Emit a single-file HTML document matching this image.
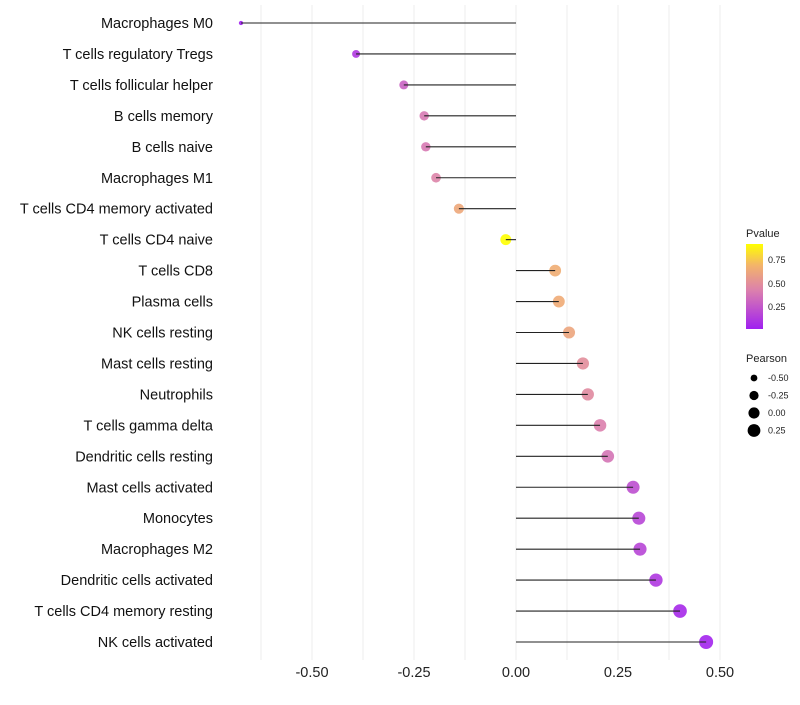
<!DOCTYPE html>
<html><head><meta charset="utf-8"><style>
body{margin:0;background:#fff;font-family:"Liberation Sans",Arial,sans-serif}
</style></head><body>
<svg id="chart" width="800" height="700" xmlns="http://www.w3.org/2000/svg">
<defs><linearGradient id="pg" x1="0" y1="1" x2="0" y2="0">
<stop offset="0" stop-color="#a020f0"/><stop offset="0.45" stop-color="#db7fae"/><stop offset="0.75" stop-color="#f3b46a"/><stop offset="1" stop-color="#ffff00"/></linearGradient></defs>
<g id="grid"></g><g id="points"></g><g id="marks"></g><g id="labels"></g><g id="legend"></g>
</svg>
<script>
const categories=["Macrophages M0","T cells regulatory  Tregs","T cells follicular helper","B cells memory","B cells naive","Macrophages M1","T cells CD4 memory activated","T cells CD4 naive","T cells CD8","Plasma cells","NK cells resting","Mast cells resting","Neutrophils","T cells gamma delta","Dendritic cells resting","Mast cells activated","Monocytes","Macrophages M2","Dendritic cells activated","T cells CD4 memory resting","NK cells activated"];
const pearson=[-0.674,-0.392,-0.275,-0.225,-0.221,-0.196,-0.140,-0.025,0.096,0.105,0.130,0.164,0.176,0.206,0.225,0.287,0.301,0.304,0.343,0.402,0.466];
const pvalues=[0.02,0.12,0.30,0.40,0.40,0.45,0.63,0.92,0.66,0.65,0.62,0.50,0.48,0.43,0.38,0.22,0.18,0.18,0.12,0.06,0.04];
const xTicks=[-0.5,-0.25,0,0.25,0.5];
const xTickLabels=["-0.50","-0.25","0.00","0.25","0.50"];
const NS="http://www.w3.org/2000/svg";
const x=v=>516+408*v;
const y=i=>23+i*30.95;
const r=v=>Math.sqrt(Math.max(2,31+39*v));
function col(p){const st=[[0,[160,32,240]],[0.45,[219,127,174]],[0.75,[243,180,106]],[1,[255,255,0]]];const t=Math.max(0,Math.min(1,(p-0.02)/0.9));for(let k=1;k<st.length;k++){if(t<=st[k][0]){const a=st[k-1],b=st[k],f=(t-a[0])/(b[0]-a[0]);return `rgb(${a[1].map((c,j)=>Math.round(c+(b[1][j]-c)*f)).join(',')})`;}}return 'rgb(255,255,0)';}
function mk(tag,at,parent){const e=document.createElementNS(NS,tag);for(const k in at)e.setAttribute(k,at[k]);document.getElementById(parent).appendChild(e);return e;}
for(let v=-0.625;v<=0.5001;v+=0.125){const g=mk('line',{x1:x(v),x2:x(v),y1:5,y2:660,stroke:'#ececec','stroke-width':1},'grid');

}
xTicks.forEach((t,i)=>{const e=mk('text',{x:x(t),y:677,'text-anchor':'middle','font-size':14.5,fill:'#222'},'labels');e.textContent=xTickLabels[i];

});
categories.forEach((c,i)=>{
const t=mk('text',{x:213,y:y(i)+5,'text-anchor':'end','font-size':14.5,fill:'#111'},'labels');t.textContent=c;


const p=mk('circle',{cx:x(pearson[i]),cy:y(i),r:r(pearson[i]),fill:col(pvalues[i]),'fill-opacity':0.9},'points');


const l=mk('line',{x1:x(0),x2:x(pearson[i]),y1:y(i),y2:y(i),stroke:'#222','stroke-width':1.1},'marks');


});
let e=mk('text',{x:746,y:237,'font-size':11,fill:'#222'},'legend');e.textContent='Pvalue';


e=mk('rect',{x:746,y:244,width:17,height:85,fill:'url(#pg)'},'legend');


[[0.75,260],[0.50,284],[0.25,307]].forEach(a=>{const t=mk('text',{x:768,y:a[1]+3,'font-size':9,fill:'#222'},'legend');t.textContent=a[0].toFixed(2);

});
e=mk('text',{x:746,y:362,'font-size':11,fill:'#222'},'legend');e.textContent='Pearson';


[-0.5,-0.25,0,0.25].forEach((v,i)=>{const cy=378+i*17.5;const c=mk('circle',{cx:754,cy:cy,r:r(v),fill:'#000'},'legend');


const t=mk('text',{x:768,y:cy+3,'font-size':9,fill:'#222'},'legend');t.textContent=v.toFixed(2);

});
</script>
</body></html>
